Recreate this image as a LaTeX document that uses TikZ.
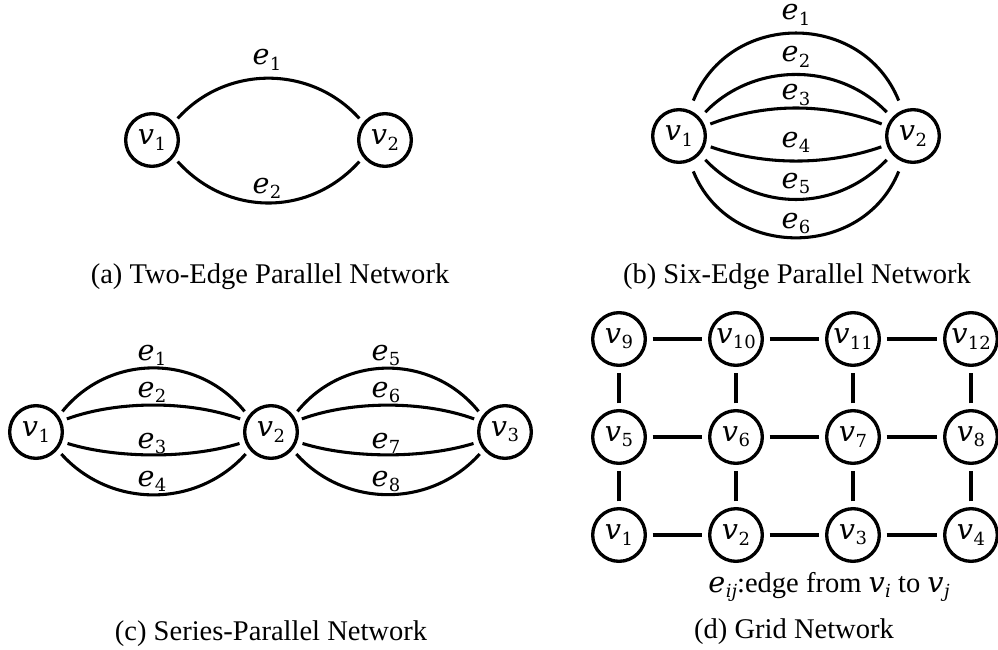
\documentclass[tikz,border=0pt]{standalone}
\usepackage{fontspec}
\setmainfont{Liberation Serif}
\newfontfamily\mfont{DejaVu Serif}
\newcommand\vv[2]{{\mfont\fontsize{21.5}{26}\selectfont\itshape #1\kern0.3pt\raisebox{-4pt}{\upshape\fontsize{13.5}{16}\selectfont #2}}}
\newcommand\vvi[2]{{\mfont\fontsize{21.5}{26}\selectfont\itshape #1\kern0.3pt\raisebox{-4pt}{\fontsize{13.5}{16}\selectfont #2}}}
\newcommand\mycapfont{\fontsize{21.4}{25}\selectfont}
\tikzset{
  vtx/.style={draw, circle, line width=2.5pt, minimum size=39.5pt, inner sep=0pt, outer sep=5.4pt},
  edg/.style={line width=2.3pt},
  lab/.style={inner sep=0pt, anchor=base},
  captxt/.style={inner sep=0pt, anchor=base, font=\mycapfont},
}
\begin{document}
\begin{tikzpicture}[x=0.75pt, y=0.75pt]
\useasboundingbox (0,0) rectangle (998,-649);

% ---------- (a) ----------
\node[vtx] (a1) at (152,-140) {\vv{v}{1}};
\node[vtx] (a2) at (385,-140) {\vv{v}{2}};
\draw[edg] (a1.40) to[out=48,in=132,looseness=1.02] (a2.140);
\draw[edg] (a1.-40) to[out=-48,in=-132,looseness=1.05] (a2.-140);
\node[lab] (ae1) at (267,-65) {\vv{e}{1}};
\node[lab] (ae2) at (267,-193) {\vv{e}{2}};
\node[captxt] (capa) at (270,-283) {(a) Two-Edge Parallel Network};

% ---------- (b) ----------
\node[vtx] (b1) at (679,-136) {\vv{v}{1}};
\node[vtx] (b2) at (913,-136) {\vv{v}{2}};
\draw[edg, shorten <=3.5pt, shorten >=3.5pt] (b1.68) to[out=68,in=112,looseness=1.25] (b2.112);
\draw[edg, shorten <=1.5pt, shorten >=1.5pt] (b1.42) to[out=46,in=134,looseness=1.0] (b2.138);
\draw[edg] (b1.21) to[out=21,in=159,looseness=0.89] (b2.159);
\draw[edg] (b1.-19) to[out=-19,in=-161,looseness=0.87] (b2.-161);
\draw[edg, shorten <=1.5pt, shorten >=1.5pt] (b1.-42) to[out=-46,in=-134,looseness=1.05] (b2.-138);
\draw[edg, shorten <=3.5pt, shorten >=3.5pt] (b1.-68) to[out=-68,in=-112,looseness=1.23] (b2.-112);
\node[lab] (be1) at (796,-20) {\vv{e}{1}};
\node[lab] (be2) at (796,-62) {\vv{e}{2}};
\node[lab] (be3) at (796,-100) {\vv{e}{3}};
\node[lab] (be4) at (796,-147) {\vv{e}{4}};
\node[lab] (be5) at (796,-188) {\vv{e}{5}};
\node[lab] (be6) at (796,-228) {\vv{e}{6}};
\node[captxt] (capb) at (797,-283) {(b) Six-Edge Parallel Network};

% ---------- (c) ----------
\node[vtx] (c1) at (36,-432) {\vv{v}{1}};
\node[vtx] (c2) at (271,-432) {\vv{v}{2}};
\node[vtx] (c3) at (505,-432) {\vv{v}{3}};
\draw[edg] (c1.38) to[out=51,in=129,looseness=1.05] (c2.142);
\draw[edg] (c1.23) to[out=20,in=160,looseness=0.8] (c2.157);
\draw[edg] (c1.-20) to[out=-17,in=-163,looseness=0.78] (c2.-160);
\draw[edg] (c1.-41) to[out=-48,in=-132,looseness=1.02] (c2.-139);
\draw[edg] (c2.38) to[out=51,in=129,looseness=1.05] (c3.142);
\draw[edg] (c2.23) to[out=20,in=160,looseness=0.8] (c3.157);
\draw[edg] (c2.-20) to[out=-17,in=-163,looseness=0.78] (c3.-160);
\draw[edg] (c2.-41) to[out=-48,in=-132,looseness=1.02] (c3.-139);
\node[lab] (ce1) at (152,-360) {\vv{e}{1}};
\node[lab] (ce2) at (152,-397) {\vv{e}{2}};
\node[lab] (ce3) at (152,-448) {\vv{e}{3}};
\node[lab] (ce4) at (152,-486) {\vv{e}{4}};
\node[lab] (ce5) at (386,-360) {\vv{e}{5}};
\node[lab] (ce6) at (386,-397) {\vv{e}{6}};
\node[lab] (ce7) at (386,-448) {\vv{e}{7}};
\node[lab] (ce8) at (386,-486) {\vv{e}{8}};
\node[captxt] (capc) at (271,-640) {(c) Series-Parallel Network};

% ---------- (d) ----------
\node[vtx] (g1) at (619,-535) {\vv{v}{1}};
\node[vtx] (g2) at (736,-535) {\vv{v}{2}};
\node[vtx] (g3) at (853,-535) {\vv{v}{3}};
\node[vtx] (g4) at (971,-535) {\vv{v}{4}};
\node[vtx] (g5) at (619,-437) {\vv{v}{5}};
\node[vtx] (g6) at (736,-437) {\vv{v}{6}};
\node[vtx] (g7) at (853,-437) {\vv{v}{7}};
\node[vtx] (g8) at (971,-437) {\vv{v}{8}};
\node[vtx] (g9) at (619,-339) {\vv{v}{9}};
\node[vtx] (g10) at (736,-339) {\vv{v}{10}};
\node[vtx] (g11) at (853,-339) {\vv{v}{11}};
\node[vtx] (g12) at (971,-339) {\vv{v}{12}};
\foreach \a/\b in {1/2,2/3,3/4,5/6,6/7,7/8,9/10,10/11,11/12}
  \draw[edg] (g\a) -- (g\b);
\foreach \a/\b in {1/5,5/9,2/6,6/10,3/7,7/11,4/8,8/12}
  \draw[edg] (g\a) -- (g\b);
\node[captxt] (note) at (829,-592) {\vvi{e}{ij}:edge from \vvi{v}{i} to \vvi{v}{j}};
\node[captxt] (capd) at (794,-638) {(d) Grid Network};
\end{tikzpicture}
\end{document}
